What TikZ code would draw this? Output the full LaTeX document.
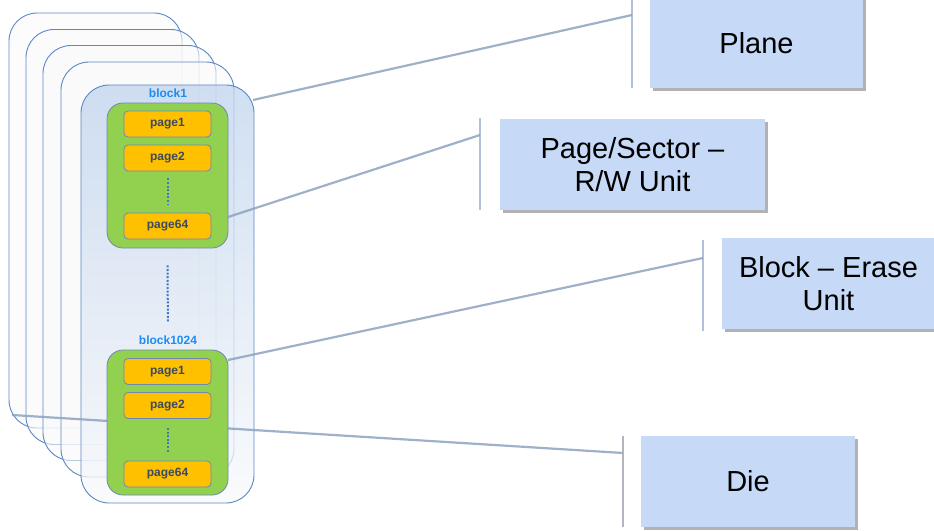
\documentclass[tikz,border=0pt]{standalone}
\usepackage{fontspec}
\setmainfont{Liberation Sans}
\usetikzlibrary{shadows}
\definecolor{framec}{HTML}{5B87C5}
\definecolor{framef}{HTML}{FAFAFA}
\definecolor{planetop}{HTML}{C0D4EE}
\definecolor{planebot}{HTML}{F8F9FA}
\definecolor{greenf}{HTML}{92D050}
\definecolor{pagef}{HTML}{FFC000}
\definecolor{pagedraw}{HTML}{6F88B2}
\definecolor{pagetext}{HTML}{3B4A5E}
\definecolor{blocktext}{HTML}{1E8CF0}
\definecolor{boxf}{HTML}{C6D9F7}
\definecolor{linkc}{HTML}{8DA3C0}
\definecolor{brackc}{HTML}{AFC0D8}
\definecolor{brackd}{HTML}{B4B4BE}
\definecolor{dotc}{HTML}{3F78C8}
\tikzset{
  frame/.style={draw=framec, line width=0.9pt, fill=framef, fill opacity=0.6, rounded corners=28pt, inner sep=0pt, minimum width=173pt, minimum height=415pt},
  mainplane/.style={draw=framec, line width=0.9pt, top color=planetop, bottom color=planebot, fill opacity=0.75, rounded corners=28pt, inner sep=0pt, minimum width=173pt, minimum height=418pt},
  greenbox/.style={draw=pagedraw, line width=0.8pt, fill=greenf, rounded corners=16pt, inner sep=0pt, minimum width=121pt, minimum height=145pt},
  pagebox/.style={draw=pagedraw, line width=0.8pt, fill=pagef, rounded corners=4pt, inner sep=0pt, minimum width=87pt, minimum height=26pt, text=pagetext, font=\bfseries\fontsize{12}{13}\selectfont},
  blocklbl/.style={text=blocktext, font=\bfseries\fontsize{12}{13}\selectfont, inner sep=1pt},
  infobox/.style={fill=boxf, inner sep=0pt, align=center, font=\fontsize{29}{33}\selectfont, drop shadow={shadow xshift=2.5pt, shadow yshift=-2.5pt, fill=black, opacity=0.3}},
  link/.style={draw=linkc, line width=2.2pt, opacity=0.85},
  bracket/.style={draw=brackc, line width=2pt},
  dotline/.style={draw=dotc, line width=2pt, dash pattern=on 2pt off 1.6pt},
}
\begin{document}
\begin{tikzpicture}[x=1pt,y=-1pt]
\useasboundingbox (0,0) rectangle (934,530);
\clip (0,0) rectangle (934,530);

% stacked planes
\node[frame] (f1) at (95.5,220.5) {};
\node[frame] (f2) at (112.5,237) {};
\node[frame] (f3) at (129.5,253) {};
\node[frame] (f4) at (147.5,269.5) {};
\node[mainplane] (f5) at (167.5,294) {};

% connector start/end points
\coordinate (sPlane) at (253,100);
\coordinate (sPage) at (228,217);
\coordinate (sBlock) at (228,360);
\coordinate (sDie) at (12,415);
\coordinate (ePlane) at (632,15);
\coordinate (ePage) at (480,135);
\coordinate (eBlock) at (703,258);
\coordinate (eDie) at (623,453);

% die connector (behind the blocks)
\draw[link] (sDie) -- (eDie);

% block labels
\node[blocklbl] (lb1) at (168,93) {block1};
\node[blocklbl] (lb2) at (168,340) {block1024};

% block 1
\node[greenbox] (g1) at (167.5,175.5) {};
\node[pagebox] (p1a) at (167.5,124) {page1};
\node[pagebox] (p2a) at (167.5,158) {page2};
\node[pagebox] (p64a) at (167.5,226) {page64};
\draw[dotline, shorten <=7pt, shorten >=8pt] (p2a.south) -- (p64a.north);

% dots between blocks
\draw[dotline, shorten <=17pt, shorten >=28pt] (g1.south) -- (168,350);

% block 1024
\node[greenbox] (g2) at (167.5,422.5) {};
\node[pagebox] (p1b) at (167.5,371.5) {page1};
\node[pagebox] (p2b) at (167.5,405.5) {page2};
\node[pagebox] (p64b) at (167.5,474) {page64};
\draw[dotline, shorten <=9pt, shorten >=8pt] (p2b.south) -- (p64b.north);

% right-hand boxes
\node[infobox, minimum width=213pt, minimum height=90pt] (plane) at (756.5,43) {Plane};
\node[infobox, minimum width=265pt, minimum height=91pt] (page) at (632.5,164.5) {Page/Sector –\\R/W Unit};
\node[infobox, minimum width=213pt, minimum height=91pt] (block) at (828.5,283.5) {Block – Erase\\Unit};
\node[infobox, minimum width=214pt, minimum height=91pt] (die) at (748,481.5) {Die};

% brackets
\draw[bracket] (632,-2) -- (632,88);
\draw[bracket] (480,118) -- (480,210);
\draw[bracket] (703,240) -- (703,331);
\draw[bracket, draw=brackd] (623,436) -- (623,527);

% connectors
\draw[link] (sPlane) -- (ePlane);
\draw[link] (sPage) -- (ePage);
\draw[link] (sBlock) -- (eBlock);
\end{tikzpicture}
\end{document}
